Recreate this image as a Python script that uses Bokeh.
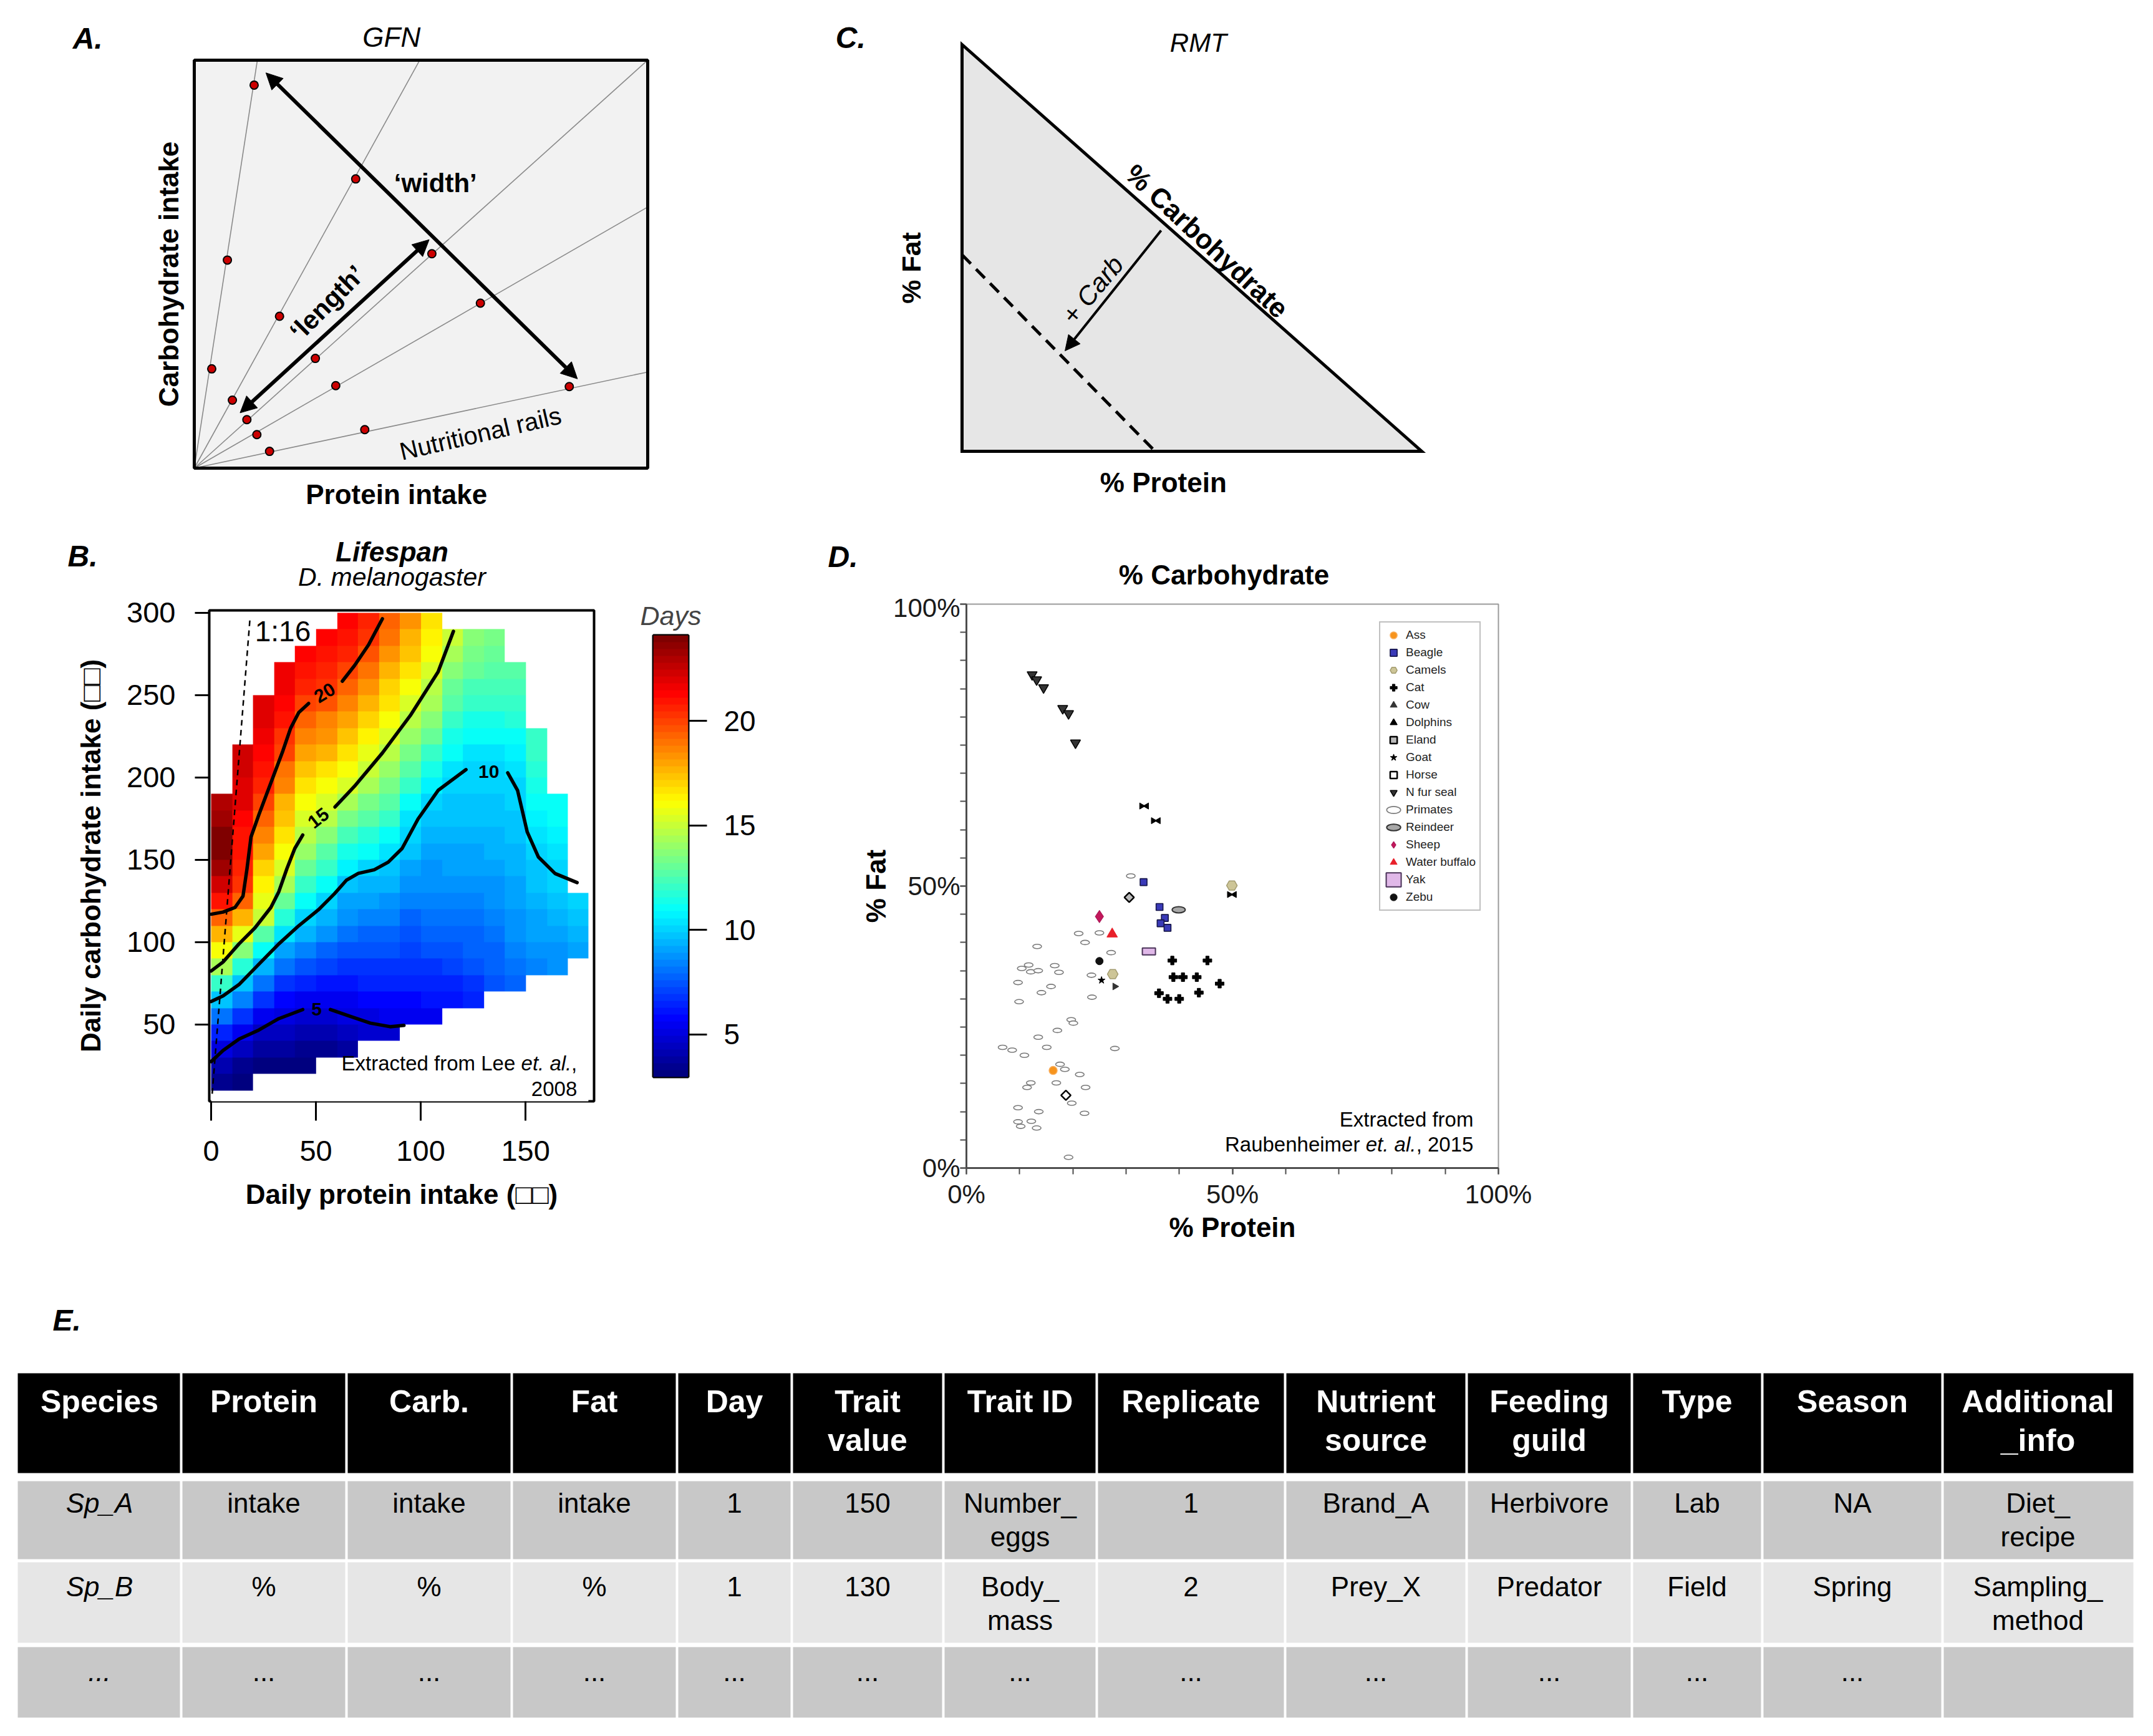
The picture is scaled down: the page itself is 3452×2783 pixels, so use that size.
import numpy as np
from bokeh.plotting import figure
from bokeh.layouts import column, row
from bokeh.models import (Range1d, Arrow, NormalHead, FixedTicker,
                          LinearColorMapper, Legend, LegendItem,
                          PrintfTickFormatter, ColumnDataSource)
from bokeh.core.properties import value
from bokeh.transform import dodge
from bokeh.embed import file_html
from bokeh.resources import INLINE

FONT = "Liberation Sans"

# ====================== DATA ======================
# ---- Panel A: geometric framework (GFN) ----
rail_slopes = [6.47, 1.81, 0.90, 0.576, 0.212]          # carbohydrate : protein ratio of each rail
gfn_protein = [13.2, 7.3, 3.85, 35.6, 18.8, 8.4, 52.4, 26.7, 11.6, 63.1, 31.2, 13.8, 82.7, 37.6, 16.6]
gfn_carb = [84.5, 45.9, 21.9, 63.8, 33.5, 15.0, 47.3, 24.2, 10.7, 36.4, 18.2, 7.4, 18.0, 8.5, 3.7]
width_arrow = (15.8, 87.2, 84.5, 19.7)
length_arrow = (10.1, 12.2, 51.8, 50.4)

# ---- Panel C: right-angled mixture triangle (RMT) ----
rmt_protein = [0, 100, 0]
rmt_fat = [0, 0, 100]
iso_protein = [0, 42]
iso_fat = [48.3, 0]
carb_arrow = (43.3, 54.3, 22.4, 24.7)

# ---- Panel B: lifespan landscape (D. melanogaster) ----
heat_protein = [5, 15, 25, 35, 45, 55, 65, 75, 85, 95, 105, 115, 125, 135, 145, 155, 165, 175]
heat_carb_start = [15, 15, 25, 25, 25, 35, 35, 45, 45, 55, 55, 65, 65, 75, 75, 85, 85, 95]
heat_days = [
    [3.5, 4.2, 5.2, 6.6, 8.1, 9.7, 12.0, 14.4, 16.0, 17.6, 19.4, 21.0, 22.3, 23.3, 23.8, 23.8, 23.4, 23.0],
    [3.2, 3.6, 4.3, 5.3, 6.7, 8.3, 9.8, 11.8, 13.8, 15.6, 17.6, 19.4, 20.4, 20.7, 20.8, 21.0, 21.3, 21.8, 22.0, 22.2, 22.2],
    [3.3, 3.9, 4.6, 5.6, 6.8, 8.2, 9.5, 10.9, 12.6, 14.9, 15.7, 16.4, 17.1, 17.9, 18.6, 19.3, 20.0, 20.6, 21.0, 21.4, 21.7, 22.0, 22.0],
    [3.1, 3.7, 4.3, 5.0, 5.9, 6.9, 8.0, 9.2, 10.4, 11.7, 13.0, 14.3, 15.4, 16.0, 16.6, 17.2, 17.8, 18.5, 19.1, 19.8, 20.3, 20.8, 21.2, 21.5, 21.6],
    [3.0, 3.4, 4.0, 4.7, 5.5, 6.4, 7.4, 8.4, 9.3, 10.2, 11.1, 12.0, 12.9, 13.9, 14.8, 15.5, 16.1, 16.8, 17.4, 18.1, 18.7, 19.4, 20.1, 20.6, 21.0, 21.2],
    [3.6, 4.2, 4.8, 5.4, 6.2, 7.0, 7.8, 8.6, 9.3, 10.0, 11.0, 11.9, 12.8, 13.7, 14.6, 15.4, 16.1, 16.8, 17.5, 18.2, 18.8, 19.5, 20.2, 20.6, 21.0, 21.2],
    [3.9, 4.4, 4.95, 5.5, 6.1, 6.8, 7.4, 8.0, 8.6, 9.2, 9.8, 10.6, 11.5, 12.5, 13.4, 14.4, 15.2, 15.9, 16.6, 17.3, 18.0, 18.7, 19.4, 20.1, 20.6, 21.0, 21.2],
    [4.7, 5.2, 5.8, 6.3, 6.8, 7.4, 7.9, 8.4, 9.0, 9.5, 10.1, 10.9, 11.7, 12.6, 13.5, 14.3, 15.0, 15.6, 16.2, 16.9, 17.5, 18.2, 18.9, 19.5, 20.2, 20.6],
    [4.9, 5.3, 5.8, 6.3, 6.8, 7.3, 7.8, 8.3, 8.8, 9.3, 9.8, 10.4, 11.2, 11.9, 12.6, 13.3, 14.0, 14.7, 15.3, 15.9, 16.5, 17.1, 17.7, 18.3, 18.9, 19.4],
    [5.4, 5.9, 6.3, 6.7, 7.1, 7.5, 7.9, 8.3, 8.7, 9.1, 9.6, 10.0, 10.5, 11.2, 11.9, 12.6, 13.3, 14.1, 14.8, 15.4, 16.0, 16.6, 17.2, 17.7, 18.2],
    [5.6, 6.0, 6.5, 6.9, 7.3, 7.6, 8.0, 8.3, 8.6, 8.9, 9.2, 9.5, 9.8, 10.1, 10.8, 11.5, 12.2, 12.9, 13.6, 14.2, 14.8, 15.4, 15.9, 16.4, 16.8],
    [6.2, 6.6, 7.0, 7.4, 7.8, 8.1, 8.4, 8.7, 9.0, 9.2, 9.4, 9.6, 9.8, 10.0, 10.5, 11.0, 11.5, 12.1, 12.6, 13.2, 13.8, 14.4, 14.9],
    [6.5, 6.9, 7.3, 7.6, 7.9, 8.2, 8.5, 8.8, 9.0, 9.2, 9.4, 9.6, 9.8, 9.9, 10.1, 10.5, 11.0, 11.5, 12.0, 12.5, 13.0, 13.4, 13.7],
    [7.3, 7.6, 7.9, 8.2, 8.5, 8.7, 8.9, 9.1, 9.3, 9.5, 9.7, 9.8, 9.9, 10.1, 10.5, 10.9, 11.4, 11.9, 12.3, 12.7, 13.1, 13.4],
    [7.8, 8.1, 8.4, 8.6, 8.8, 9.0, 9.2, 9.4, 9.5, 9.7, 9.8, 9.9, 10.0, 10.4, 10.8, 11.2, 11.6, 12.0, 12.3, 12.6],
    [8.5, 8.8, 9.0, 9.2, 9.4, 9.6, 9.8, 10.1, 10.4, 10.7, 11.0, 11.3, 11.6, 11.9, 12.1],
    [8.6, 8.9, 9.1, 9.4, 9.7, 9.9, 10.2, 10.5, 10.7, 10.9, 11.0],
    [9.0, 9.3, 9.6, 9.9],
]
contour_pieces_protein = [
    [0, 5.7, 11.4, 15.2, 17.1, 19.0, 22.8, 28.5, 34.2, 37.9, 41.8, 46.5],      # 20 d
    [62.6, 68.4, 75.1, 81.7],                                                  # 20 d
    [0, 5.7, 13.3, 20.9, 28.5, 32.3, 36.1, 39.9, 43.7],                        # 15 d
    [59.1, 68.4, 81.7, 95.0, 108.3, 115.6],                                    # 15 d
    [0, 5.7, 13.3, 22.8, 32.3, 41.8, 51.2, 58.8, 64.5, 70.2, 77.8, 84.5, 91.1, 98.7, 108.3, 121.6],  # 10 d
    [141.5, 146.2, 150.8, 156.1, 164.1, 174.6],                                # 10 d
    [0, 5.7, 13.3, 22.8, 32.3, 43.7],                                          # 5 d
    [56.9, 66.4, 75.9, 85.4, 92.0],                                            # 5 d
]
contour_pieces_carb = [
    [117, 118.3, 121.1, 128, 144.5, 163.8, 177.5, 196.8, 216.1, 229.9, 239.5, 245],
    [258.5, 268, 280.6, 296.4],
    [82.5, 88, 99, 108.7, 121.1, 130.7, 144.5, 156.9, 165.1],
    [182.1, 194.7, 214.9, 237.6, 264.2, 288.8],
    [64, 67.4, 74.3, 86.7, 99, 110, 119.7, 129.4, 137.6, 141.8, 144, 148.6, 156.9, 174.8, 192.2, 204.8],
    [202.9, 192.2, 167, 151.8, 141.7, 136.2],
    [27.5, 34.3, 41.2, 46.7, 53.6, 59.1],
    [59.1, 55, 50.9, 48.7, 49.5],
]
contour_labels = ["20", "15", "10", "5"]
contour_label_protein = [54.2, 51.2, 132.5, 50.3]
contour_label_carb = [251.4, 175.3, 203.6, 59.1]
contour_label_angle = [31, 38, 0, 0]
ratio_carb_per_protein = 16
ratio_protein_ends = [0.5, 18.6]
days_ticks = [5, 10, 15, 20]

# ---- Panel D: macronutrient composition of milk ----
ass_p, ass_f = [16.3], [17.3]
beagle_p, beagle_f = [33.3, 36.3, 37.3, 36.5, 37.8], [50.7, 46.3, 44.35, 43.4, 42.6]
camels_p, camels_f = [49.9, 27.5], [50.1, 34.4]
cat_p = [38.7, 45.3, 38.9, 40.7, 43.3, 47.6, 36.2, 37.8, 40.0, 43.7]
cat_f = [36.8, 36.8, 33.85, 33.85, 33.85, 32.7, 31.0, 30.0, 30.0, 31.1]
cow_p, cow_f = [27.9], [32.2]
dolphins_p, dolphins_f = [33.4, 35.6, 49.9], [64.2, 61.6, 48.5]
eland_p, eland_f = [30.6], [48.0]
goat_p, goat_f = [25.4], [33.3]
horse_p, horse_f = [18.7], [12.9]
seal_p = [12.35, 13.2, 14.5, 18.1, 19.2, 20.5]
seal_f = [87.5, 86.6, 85.2, 81.5, 80.6, 75.4]
primates_p = [30.9, 21.1, 25.0, 22.3, 13.3, 27.2, 11.7, 10.4, 12.1, 13.5, 16.6, 17.4, 23.5, 9.7, 15.9,
              14.1, 23.6, 9.9, 19.7, 20.1, 17.1, 13.5, 15.1, 6.8, 8.6, 10.9, 27.9, 17.6, 18.5, 21.3,
              16.9, 12.1, 11.4, 22.4, 19.8, 9.7, 13.6, 22.2, 9.7, 12.2, 10.2, 13.2, 19.2]
primates_f = [51.8, 41.6, 41.7, 40.0, 39.3, 38.2, 36.0, 35.4, 34.8, 35.0, 35.9, 34.7, 34.2, 32.9, 32.2,
              31.1, 30.3, 29.5, 26.3, 25.7, 24.4, 23.2, 21.4, 21.4, 20.9, 20.0, 21.2, 18.4, 17.5, 16.6,
              15.1, 15.1, 14.3, 14.3, 11.5, 10.7, 10.0, 9.7, 8.2, 8.3, 7.4, 7.1, 1.9]
reindeer_p, reindeer_f = [39.9], [45.8]
sheep_p, sheep_f = [25.0], [44.6]
buffalo_p, buffalo_f = [27.4], [41.5]
yak_p, yak_f = [34.3], [38.4]
zebu_p, zebu_f = [25.0], [36.7]

# ---- Panel E: data table ----
table_header = ["Species", "Protein", "Carb.", "Fat", "Day", "Trait\nvalue", "Trait ID", "Replicate",
                "Nutrient\nsource", "Feeding\nguild", "Type", "Season", "Additional\n_info"]
table_row1 = ["Sp_A", "intake", "intake", "intake", "1", "150", "Number_\neggs", "1", "Brand_A",
              "Herbivore", "Lab", "NA", "Diet_\nrecipe"]
table_row2 = ["Sp_B", "%", "%", "%", "1", "130", "Body_\nmass", "2", "Prey_X", "Predator", "Field",
              "Spring", "Sampling_\nmethod"]
table_row3 = ["...", "...", "...", "...", "...", "...", "...", "...", "...", "...", "...", "...", ""]

# ====================== HELPERS ======================
def jet(n):
    out = []
    for t in np.linspace(0, 1, n):
        r = np.clip(1.5 - abs(4 * t - 3), 0, 1)
        g = np.clip(1.5 - abs(4 * t - 2), 0, 1)
        b = np.clip(1.5 - abs(4 * t - 1), 0, 1)
        out.append("#%02x%02x%02x" % (int(r * 255), int(g * 255), int(b * 255)))
    return out

JET = jet(64)


def add_text(p, x, y, s, size, style="normal", align="center", baseline="middle",
             angle=0.0, color="black", x_offset=0):
    p.text(x=[x], y=[y], text=[s], text_font=value(FONT),
           text_font_size=value(f"{size}px"), text_font_style=value(style),
           text_align=value(align), text_baseline=value(baseline),
           angle=angle, text_color=color, x_offset=x_offset)


def bare(p):
    p.grid.visible = False
    p.outline_line_color = None
    p.background_fill_color = "white"
    p.border_fill_color = "white"


def canvas(w, h, xr, yr):
    p = figure(width=w, height=h, x_range=Range1d(*xr), y_range=Range1d(*yr),
               output_backend="svg", toolbar_location=None, x_axis_location=None,
               y_axis_location=None, min_border=0, title=None)
    bare(p)
    return p


deg = np.deg2rad

# ====================== PANEL A ======================
pA = canvas(1308, 838, (-42.78, 137.14), (-12.11, 103.2))
pA.quad(left=[0], right=[100], bottom=[0], top=[90], fill_color="#f2f2f2", line_color=None)
rail_x = [[0, min(100, 90 / s)] for s in rail_slopes]
rail_y = [[0, min(90, 100 * s)] for s in rail_slopes]
pA.multi_line(rail_x, rail_y, line_color="#8a8a8a", line_width=1.6)
pA.quad(left=[0], right=[100], bottom=[0], top=[90], fill_color=None, line_color="black", line_width=5)
for (x0, y0, x1, y1) in (width_arrow, length_arrow):
    pA.add_layout(Arrow(start=NormalHead(size=26, fill_color="black", line_color="black"),
                        end=NormalHead(size=26, fill_color="black", line_color="black"),
                        x_start=x0, y_start=y0, x_end=x1, y_end=y1,
                        line_width=6, line_color="black"))
pA.scatter(gfn_protein, gfn_carb, marker="circle", size=13, fill_color="#cc0000",
           line_color="black", line_width=2)
add_text(pA, -26.8, 94.8, "A.", 48, "bold italic", align="left")
add_text(pA, 43.5, 95.1, "GFN", 44, "italic")
add_text(pA, -5.64, 42.8, "Carbohydrate intake", 44, "bold", angle=deg(90))
add_text(pA, 44.6, -5.8, "Protein intake", 44, "bold")
add_text(pA, 53.2, 62.9, "\u2018width\u2019", 42, "bold")
add_text(pA, 29.3, 36.5, "\u2018length\u2019", 42, "bold", angle=deg(45))
add_text(pA, 63.1, 7.7, "Nutritional rails", 40, "normal", angle=deg(13))

# ====================== PANEL C ======================
pC = canvas(1150, 838, (-31.75, 124.29), (-17.64, 110.89))
pC.patch(rmt_protein, rmt_fat, fill_color="#e6e6e6", line_color="black", line_width=5,
         line_join="miter")
pC.line(iso_protein, iso_fat, line_color="black", line_width=5, line_dash="20 12")
pC.add_layout(Arrow(end=NormalHead(size=24, fill_color="black", line_color="black"),
                    x_start=carb_arrow[0], y_start=carb_arrow[1], x_end=carb_arrow[2], y_end=carb_arrow[3],
                    line_width=4, line_color="black"))
add_text(pC, -27.5, 101.7, "C.", 48, "bold italic", align="left")
add_text(pC, 51.4, 100.5, "RMT", 42, "italic")
add_text(pC, 53.3, 51.7, "% Carbohydrate", 44, "bold", angle=deg(-43))
add_text(pC, 28.4, 39.7, "+ Carb", 42, "italic", angle=deg(50))
add_text(pC, -11.0, 45.1, "% Fat", 43, "bold", angle=deg(90))
add_text(pC, 43.8, -7.67, "% Protein", 44, "bold")

# ====================== TITLE STRIP (panels B and D) ======================
pS = canvas(3440, 112, (0, 3440), (950, 838))
add_text(pS, 108, 891, "B.", 48, "bold italic", align="left")
add_text(pS, 628, 884, "Lifespan", 44, "bold italic")
add_text(pS, 628, 924, "D. melanogaster", 41, "italic")
add_text(pS, 1327, 892, "D.", 48, "bold italic", align="left")
add_text(pS, 1962, 921, "% Carbohydrate", 44, "bold")

# ====================== PANEL B ======================
pB = figure(width=1000, height=1090, x_range=Range1d(-0.9, 182.7), y_range=Range1d(3.4, 301.5),
            output_backend="svg", toolbar_location=None, title=None,
            min_border_left=335, min_border_right=48, min_border_top=28, min_border_bottom=275)
pB.grid.visible = False
pB.outline_line_color = "black"
pB.outline_line_width = 4
mapper = LinearColorMapper(palette=JET, low=2.97, high=24.09, nan_color="white")
grid = np.full((30, len(heat_protein)), np.nan)
for j, (c0, vals) in enumerate(zip(heat_carb_start, heat_days)):
    i0 = (c0 - 5) // 10
    grid[i0:i0 + len(vals), j] = vals
pB.image(image=[grid], x=0, y=0, dw=180, dh=300, color_mapper=mapper)
pB.multi_line(contour_pieces_protein, contour_pieces_carb, line_color="black", line_width=5.5,
              line_cap="round", line_join="round")
pB.line(ratio_protein_ends, [ratio_carb_per_protein * v for v in ratio_protein_ends],
        line_color="black", line_width=2.5, line_dash="9 7")
pB.text(x=contour_label_protein, y=contour_label_carb, text=contour_labels,
        angle=[deg(a) for a in contour_label_angle], text_font=value(FONT),
        text_font_size=value("30px"), text_font_style=value("bold"),
        text_align=value("center"), text_baseline=value("middle"))
add_text(pB, 20.9, 289, "1:16", 46, "normal", align="left")
add_text(pB, 174.6, 26.6, ",", 33, "normal", align="right")
add_text(pB, 174.6, 26.6, "et. al.", 33, "italic", align="right", x_offset=-9)
add_text(pB, 174.6, 26.6, "Extracted from Lee", 33, "normal", align="right", x_offset=-99)
add_text(pB, 174.6, 11.0, "2008", 33, "normal", align="right")
pB.xaxis.ticker = FixedTicker(ticks=[0, 50, 100, 150])
pB.yaxis.ticker = FixedTicker(ticks=[50, 100, 150, 200, 250, 300])
for ax in pB.axis:
    ax.axis_line_color = None
    ax.major_tick_in = 0
    ax.major_tick_line_width = 3
    ax.major_tick_line_color = "black"
    ax.minor_tick_line_color = None
    ax.major_label_text_font = FONT
    ax.major_label_text_font_size = "47px"
    ax.major_label_text_color = "black"
    ax.axis_label_text_font = FONT
    ax.axis_label_text_font_size = "44px"
    ax.axis_label_text_font_style = "bold"
    ax.axis_label_text_color = "black"
pB.xaxis.major_tick_out = 31
pB.yaxis.major_tick_out = 23
pB.xaxis.major_label_standoff = 32
pB.yaxis.major_label_standoff = 31
pB.xaxis.axis_label = "Daily protein intake (\u25a1\u25a1)"
pB.yaxis.axis_label = "Daily carbohydrate intake (\u25a1\u25a1)"
pB.xaxis.axis_label_standoff = 26
pB.yaxis.axis_label_standoff = 30

# ====================== COLOUR BAR ======================
pCB = figure(width=300, height=1090, x_range=Range1d(0, 1), y_range=Range1d(2.97, 24.09),
             output_backend="svg", toolbar_location=None, title="Days",
             x_axis_location=None, y_axis_location="right",
             min_border_left=47, min_border_right=197, min_border_top=68, min_border_bottom=314)
pCB.title.align = "center"
pCB.title.text_font = FONT
pCB.title.text_font_size = "43px"
pCB.title.text_font_style = "italic"
pCB.title.standoff = 16
pCB.grid.visible = False
pCB.outline_line_color = "black"
pCB.outline_line_width = 4
pCB.image(image=[np.linspace(2.97, 24.09, 256).reshape(-1, 1)], x=0, y=2.97, dw=1, dh=21.12,
          color_mapper=mapper)
pCB.yaxis.ticker = FixedTicker(ticks=days_ticks)
pCB.yaxis.axis_line_color = None
pCB.yaxis.major_tick_in = 0
pCB.yaxis.major_tick_out = 30
pCB.yaxis.major_tick_line_width = 3
pCB.yaxis.minor_tick_line_color = None
pCB.yaxis.major_label_standoff = 27
pCB.yaxis.major_label_text_font = FONT
pCB.yaxis.major_label_text_font_size = "46px"
pCB.yaxis.major_label_text_color = "black"

# ====================== PANEL D ======================
pD = figure(width=1200, height=1090, x_range=Range1d(0, 100), y_range=Range1d(0, 100),
            output_backend="svg", toolbar_location=None, title=None,
            min_border_left=249, min_border_right=98, min_border_top=18, min_border_bottom=168)
pD.grid.visible = False
pD.outline_line_color = "#9a9a9a"
pD.outline_line_width = 2
pD.xaxis.ticker = FixedTicker(ticks=[0, 50, 100], minor_ticks=list(range(0, 101, 10)))
pD.yaxis.ticker = FixedTicker(ticks=[0, 50, 100], minor_ticks=list(range(0, 101, 5)))
for ax in pD.axis:
    ax.formatter = PrintfTickFormatter(format="%d%%")
    ax.axis_line_color = "#4d4d4d"
    ax.axis_line_width = 3
    ax.major_tick_in = 0
    ax.major_tick_out = 10
    ax.minor_tick_in = 0
    ax.minor_tick_out = 10
    ax.major_tick_line_color = "#4d4d4d"
    ax.minor_tick_line_color = "#4d4d4d"
    ax.major_tick_line_width = 2
    ax.minor_tick_line_width = 2
    ax.major_label_text_font = FONT
    ax.major_label_text_font_size = "42px"
    ax.major_label_text_color = "#1a1a1a"
    ax.axis_label_text_font = FONT
    ax.axis_label_text_font_size = "44px"
    ax.axis_label_text_font_style = "bold"
    ax.axis_label_text_color = "black"
pD.xaxis.axis_label = "% Protein"
pD.yaxis.axis_label = "% Fat"
pD.xaxis.major_label_standoff = 8
pD.xaxis.axis_label_standoff = 2
pD.yaxis.major_label_standoff = 0
pD.yaxis.axis_label_standoff = 0


def sc(xs, ys, marker, size, fill, line, lw=1.5, angle=0.0, shift=0.0):
    src = ColumnDataSource(dict(x=xs, y=ys))
    return pD.scatter(x=dodge("x", shift), y="y", source=src, marker=marker, size=size,
                      fill_color=fill, line_color=line, line_width=lw, angle=angle)


def ell(xs, ys, w, h, fill, line, lw):
    src = ColumnDataSource(dict(x=xs, y=ys))
    return pD.ellipse(x="x", y="y", source=src, width=w, height=h, width_units="screen",
                      height_units="screen", fill_color=fill, line_color=line, line_width=lw)


r_prim = ell(primates_p, primates_f, 14, 7, "white", "#7a7a7a", 1.6)
r_ass = sc(ass_p, ass_f, "circle", 13, "#f7941d", "#f9b060", 1.5)
r_beagle = sc(beagle_p, beagle_f, "square", 11, "#3a3ab8", "#15154a", 1.6)
r_camel = sc(camels_p, camels_f, "hex", 17, "#cdc597", "#a39c70", 1.5)
r_cat = sc(cat_p, cat_f, "plus", 14, "black", "black", 1)
r_cow = sc(cow_p, cow_f, "triangle", 11, "#333333", "#333333", 1, angle=-np.pi / 2)
r_dl = sc(dolphins_p, dolphins_f, "triangle", 10, "black", "black", 1, angle=-np.pi / 2, shift=-0.5)
r_dr = sc(dolphins_p, dolphins_f, "triangle", 10, "black", "black", 1, angle=np.pi / 2, shift=0.5)
r_eland = sc(eland_p, eland_f, "square", 11, "#bbbbbb", "black", 2.5, angle=np.pi / 4)
r_goat = sc(goat_p, goat_f, "star", 12, "black", "black", 1)
r_horse = sc(horse_p, horse_f, "square", 11, "white", "black", 2.5, angle=np.pi / 4)
r_seal = sc(seal_p, seal_f, "inverted_triangle", 16, "#333333", "black", 1.5)
r_rein = ell(reindeer_p, reindeer_f, 21, 10, "#a8a8a8", "#333333", 2)
r_sheep = sc(sheep_p, sheep_f, "diamond", 20, "#c2185b", "#a01050", 1)
r_buff = sc(buffalo_p, buffalo_f, "triangle", 17, "#e8202a", "#e8202a", 1)
r_yak = pD.rect(x="x", y="y", source=ColumnDataSource(dict(x=yak_p, y=yak_f)), width=21, height=11,
                width_units="screen", height_units="screen", fill_color="#e0b8e8",
                line_color="#4a3358", line_width=2)
r_zebu = sc(zebu_p, zebu_f, "circle", 12, "#111111", "#111111", 1)

legend = Legend(items=[
    LegendItem(label="Ass", renderers=[r_ass]),
    LegendItem(label="Beagle", renderers=[r_beagle]),
    LegendItem(label="Camels", renderers=[r_camel]),
    LegendItem(label="Cat", renderers=[r_cat]),
    LegendItem(label="Cow", renderers=[r_cow]),
    LegendItem(label="Dolphins", renderers=[r_dl, r_dr]),
    LegendItem(label="Eland", renderers=[r_eland]),
    LegendItem(label="Goat", renderers=[r_goat]),
    LegendItem(label="Horse", renderers=[r_horse]),
    LegendItem(label="N fur seal", renderers=[r_seal]),
    LegendItem(label="Primates", renderers=[r_prim]),
    LegendItem(label="Reindeer", renderers=[r_rein]),
    LegendItem(label="Sheep", renderers=[r_sheep]),
    LegendItem(label="Water buffalo", renderers=[r_buff]),
    LegendItem(label="Yak", renderers=[r_yak]),
    LegendItem(label="Zebu", renderers=[r_zebu]),
], location="top_right")
legend.label_text_font = FONT
legend.label_text_font_size = "19px"
legend.label_text_color = "#222222"
legend.glyph_height = 28
legend.glyph_width = 30
legend.label_height = 28
legend.spacing = 0
legend.padding = 6
legend.margin = 28
legend.label_standoff = 5
legend.border_line_color = "#808080"
legend.border_line_width = 2
legend.background_fill_alpha = 1.0
pD.add_layout(legend)

add_text(pD, 95.3, 8.6, "Extracted from", 33, "normal", align="right")
add_text(pD, 95.3, 4.2, ", 2015", 33, "normal", align="right")
add_text(pD, 95.3, 4.2, "et. al.", 33, "italic", align="right", x_offset=-92)
add_text(pD, 95.3, 4.2, "Raubenheimer", 33, "normal", align="right", x_offset=-182)

# ====================== PANEL E (table) ======================
col_widths = [262, 265, 265, 265, 184, 243, 246, 302, 291, 265, 209, 289, 306]
table_left = 28
row_tops = [2201, 2374, 2504, 2640]
row_bottoms = [2361, 2499, 2633, 2753]
row_fills = ["black", "#c8c8c8", "#e6e6e6", "#c8c8c8"]
row_text_y = [2246, 2409, 2543, 2679]
row_steps = [62, 54, 54, 54]

pE = canvas(3440, 735, (0, 3440), (2775, 2040))
edges = list(np.cumsum([table_left] + col_widths))
ncol = len(col_widths)
q = dict(left=[], right=[], top=[], bottom=[], color=[])
groups = {}
rows = [table_header, table_row1, table_row2, table_row3]
for r, cells in enumerate(rows):
    for c, s in enumerate(cells):
        q["left"].append(edges[c] + (2 if c > 0 else 0))
        q["right"].append(edges[c + 1] - (2 if c < ncol - 1 else 0))
        q["top"].append(row_tops[r])
        q["bottom"].append(row_bottoms[r])
        q["color"].append(row_fills[r])
        if r == 0:
            key = ("bold", "white", 50)
        elif c == 0:
            key = ("italic", "black", 44)
        else:
            key = ("normal", "black", 44)
        g = groups.setdefault(key, dict(x=[], y=[], t=[]))
        for k, line in enumerate(s.split("\n")):
            g["x"].append((edges[c] + edges[c + 1]) / 2)
            g["y"].append(row_text_y[r] + k * row_steps[r])
            g["t"].append(line)
pE.quad(left="left", right="right", top="top", bottom="bottom", fill_color="color",
        line_color=None, source=ColumnDataSource(q))
for (style, color, size), g in groups.items():
    pE.text(x=g["x"], y=g["y"], text=g["t"], text_font=value(FONT),
            text_font_size=value(f"{size}px"), text_font_style=value(style),
            text_color=color, text_align=value("center"), text_baseline=value("middle"))
add_text(pE, 84, 2116, "E.", 48, "bold italic", align="left")

layout = column(row(pA, pC), pS, row(column(pB), column(pCB), column(pD)), pE)
with open("out.html", "w") as f:
    f.write(file_html(layout, INLINE, "Nutritional geometry"))
